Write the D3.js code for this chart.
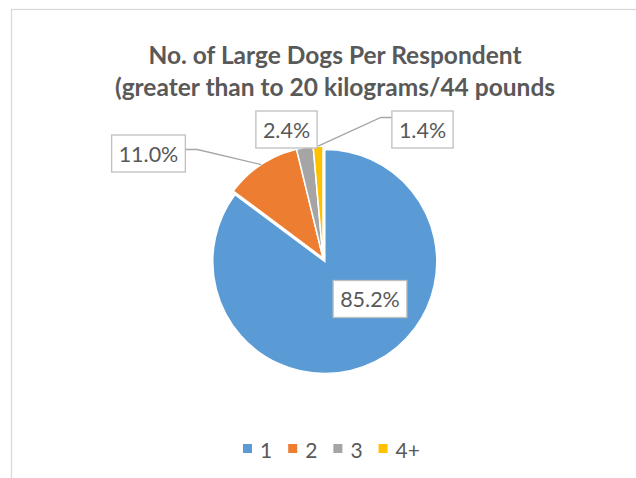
<!DOCTYPE html>
<html>
<head>
<meta charset="utf-8">
<script src="https://cdn.jsdelivr.net/npm/d3@7"></script>
<style>
  html, body { margin: 0; padding: 0; background: #fff; }
  svg { display: block; }
  text { font-family: Lato, "Open Sans", sans-serif; }
</style>
</head>
<body>
<svg id="chart" width="636" height="478"></svg>
<script>
// ---- data ----
const categories = ["1", "2", "3", "4+"];
const values = [85.2, 11.0, 2.4, 1.4];
const labels = ["85.2%", "11.0%", "2.4%", "1.4%"];
const colors = ["#5b9bd5", "#ed7d31", "#a5a5a5", "#ffc000"];
const titleLines = ["No. of Large Dogs Per Respondent", "(greater than to 20 kilograms/44 pounds"];

// ---- layout ----
const W = 636, H = 478;
const cx = 323, cy = 258, R = 112;
const explodeBlue = 4;
// label box centers relative to pie centre, and whether leader is drawn
const labelLayout = [
  { dx: 47,    dy: 41,    leader: false },
  { dx: -174.5, dy: -104.5, leader: true, side: "right", elbow: 12 },
  { dx: -36.5, dy: -128.5, leader: false },
  { dx: 99.5,  dy: -128.5, leader: true, side: "left", elbow: 11 }
];

const svg = d3.select("#chart");

// border
svg.append("rect")
  .attr("x", 11.5).attr("y", 9.5)
  .attr("width", 640).attr("height", 480)
  .attr("fill", "#fff").attr("stroke", "#d9d9d9").attr("stroke-width", 1.3);

// title
const title = svg.append("text")
  .attr("text-anchor", "middle")
  .attr("fill", "#595959")
  .attr("font-weight", "bold")
  .attr("font-size", 24.5);
titleLines.forEach((t, i) => {
  title.append("tspan").attr("x", 335).attr("y", 64 + i * 32).text(t);
});

// pie
const pie = d3.pie().sort(null).value(d => d)(values);
const arc = d3.arc().innerRadius(0).outerRadius(R);
const g = svg.append("g").attr("transform", `translate(${cx},${cy})`);

g.selectAll("path.slice")
  .data(pie)
  .join("path")
  .attr("class", "slice")
  .attr("d", arc)
  .attr("fill", (d, i) => colors[i])
  .attr("stroke", "#fff")
  .attr("stroke-width", 1.5)
  .attr("transform", (d, i) => {
    if (i !== 0) return null;
    const a = (d.startAngle + d.endAngle) / 2;
    return `translate(${Math.sin(a) * explodeBlue},${-Math.cos(a) * explodeBlue})`;
  });

// labels
const labelSize = 21.5;
const boxH = 37;
pie.forEach((d, i) => {
  const L = labelLayout[i];
  const lg = g.append("g");
  const txt = lg.append("text")
    .attr("x", L.dx).attr("y", L.dy)
    .attr("text-anchor", "middle")
    .attr("dominant-baseline", "central")
    .attr("font-size", labelSize)
    .attr("fill", "#595959")
    .text(labels[i]);
  const tw = txt.node().getComputedTextLength();
  const bw = tw + 14;
  lg.insert("rect", "text")
    .attr("x", L.dx - bw / 2).attr("y", L.dy - boxH / 2)
    .attr("width", bw).attr("height", boxH)
    .attr("fill", "#fff")
    .attr("stroke", "#bfbfbf").attr("stroke-width", 1.3);
  if (L.leader) {
    const a = (d.startAngle + d.endAngle) / 2;
    const ex = Math.sin(a) * R, ey = -Math.cos(a) * R;
    let sx, sy;
    if (L.side === "right") { sx = L.dx + bw / 2; sy = L.dy - 4; }
    else { sx = L.dx - bw / 2; sy = L.dy - 12; }
    const kx = L.side === "right" ? sx + L.elbow : sx - L.elbow;
    g.insert("path", "g")
      .attr("d", `M${sx},${sy}L${kx},${sy}L${ex},${ey}`)
      .attr("fill", "none")
      .attr("stroke", "#a6a6a6").attr("stroke-width", 1.3);
  }
});

// legend
const legend = svg.append("g").attr("transform", "translate(0,449)");
let lx = 243;
categories.forEach((c, i) => {
  legend.append("rect")
    .attr("x", lx).attr("y", -5)
    .attr("width", 9).attr("height", 9)
    .attr("fill", colors[i]);
  const t = legend.append("text")
    .attr("x", lx + 17).attr("y", 0)
    .attr("dominant-baseline", "central")
    .attr("font-size", 21)
    .attr("fill", "#595959")
    .text(c);
  lx += 17 + t.node().getComputedTextLength() + 16;
});
</script>
</body>
</html>
